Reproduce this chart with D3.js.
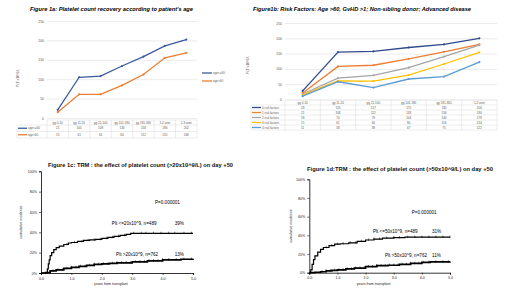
<!DOCTYPE html>
<html>
<head>
<meta charset="utf-8">
<script src="https://cdn.jsdelivr.net/npm/d3@7"></script>
<style>
  body { margin: 0; background: #fff; }
  svg { display: block; font-family: "Liberation Sans", Arial, sans-serif; }
</style>
</head>
<body>
<script>
// ---- data ----
const catsA = ['gg 0-10', 'gg 11-20', 'gg 21-100', 'gg 101-180', 'gg 181-365', '1-2 anni', '2-3 anni'];
const namesA = ['age<=60', 'age>60'];
const ageLe60 = [21, 105, 108, 134, 158, 186, 202];
const ageGt60 = [15, 61, 61, 84, 112, 155, 168];

const catsB = ['gg 0-10', 'gg 11-20', 'gg 21-100', 'gg 101-180', 'gg 181-365', '1-2 anni'];
const namesB = ['0 risk factors', '1 risk factors', '2 risk factors', '3 risk factors', '4 risk factors'];
const rf0 = [28, 155, 157, 170, 180, 200];
const rf1 = [21, 108, 112, 133, 156, 180];
const rf2 = [18, 70, 79, 104, 140, 178];
const rf3 = [15, 61, 60, 80, 116, 154];
const rf4 = [11, 58, 39, 67, 75, 122];

const yTicksLine = [0, 50, 100, 150, 200, 250];
const kmYTicks = [0, 0.2, 0.4, 0.6, 0.8, 1];
const kmXTicks = [0, 1, 2, 3, 4, 5];

// cumulative incidence step points [years, fraction]
const c_low20 = [[0,0],[0.19,0],[0.21,0.04],[0.24,0.09],[0.27,0.13],[0.3,0.17],[0.35,0.2],[0.42,0.23],[0.5,0.25],[0.6,0.265],[0.75,0.28],[0.9,0.295],[1.0,0.3],[1.2,0.31],[1.4,0.32],[1.6,0.325],[1.8,0.33],[2.0,0.34],[2.2,0.35],[2.4,0.36],[2.6,0.37],[2.8,0.38],[2.95,0.39],[5,0.39]];
const c_high20 = [[0,0],[0.15,0.005],[0.3,0.02],[0.5,0.03],[0.75,0.045],[1,0.055],[1.25,0.065],[1.5,0.075],[1.75,0.085],[2,0.09],[2.25,0.095],[2.5,0.1],[3,0.11],[3.5,0.12],[4,0.13],[4.6,0.135],[5,0.14]];
const cens_low20 = [0.85, 1.1, 1.35, 1.55, 1.75, 1.95, 2.15, 2.35, 2.55, 2.75, 3.05, 3.3, 3.45, 3.7, 3.95, 4.2, 4.4, 4.7, 4.95];
const cens_high20 = [0.4, 0.55, 0.7, 0.85, 1.0, 1.15, 1.3, 1.45, 1.6, 1.75, 1.9, 2.05, 2.2, 2.35, 2.5, 2.65, 2.8, 2.95, 3.1, 3.25, 3.4, 3.55, 3.7, 3.85, 4.0, 4.2, 4.45, 4.7, 4.95];

const c_low50 = [[0,0],[0.05,0.03],[0.1,0.09],[0.15,0.14],[0.2,0.18],[0.3,0.22],[0.4,0.25],[0.5,0.27],[0.7,0.29],[0.9,0.305],[1.1,0.31],[1.4,0.32],[1.7,0.335],[2,0.35],[2.3,0.36],[2.6,0.37],[3,0.375],[3.4,0.38],[5,0.38]];
const c_high50 = [[0,0],[0.2,0.005],[0.4,0.01],[0.6,0.02],[0.8,0.025],[1,0.03],[1.3,0.04],[1.6,0.05],[2,0.065],[2.4,0.075],[2.8,0.08],[3.2,0.09],[3.6,0.1],[4,0.11],[4.3,0.115],[5,0.12]];
const cens_low50 = [0.6, 0.8, 1.0, 1.2, 1.45, 1.65, 1.85, 2.1, 2.3, 2.5, 2.75, 3.0, 3.2, 3.5, 3.75, 4.0, 4.25, 4.5, 4.75, 5.0];
const cens_high50 = [0.45, 0.6, 0.75, 0.9, 1.05, 1.2, 1.35, 1.5, 1.65, 1.8, 1.95, 2.1, 2.25, 2.4, 2.55, 2.7, 2.85, 3.0, 3.15, 3.3, 3.45, 3.6, 3.75, 3.9, 4.05, 4.25, 4.5, 4.75, 4.95];

// ---- drawing ----
const svg = d3.select('body').append('svg').attr('width', 520).attr('height', 292);
svg.append('rect').attr('width', 520).attr('height', 292).attr('fill', '#fff');

const GRID = '#d9d9d9';
const TXT = '#595959';

function lineTableChart(cfg) {
  const g = svg.append('g');
  const x = d3.scaleBand().domain(cfg.cats).range([cfg.x0, cfg.x1]);
  const y = d3.scaleLinear().domain([0, 250]).range([cfg.yBot, cfg.yTop]);
  const cx = i => x(cfg.cats[i]) + x.bandwidth() / 2;

  // title
  g.append('text')
    .attr('x', cfg.title.x).attr('y', cfg.title.y)
    .attr('font-size', 5.4).attr('font-weight', 'bold').attr('font-style', 'italic')
    .attr('textLength', cfg.title.w).attr('lengthAdjust', 'spacingAndGlyphs')
    .text(cfg.title.text);

  // gridlines + y labels
  const yAx = g.append('g').attr('transform', `translate(${cfg.x0},0)`)
    .call(d3.axisLeft(y).tickValues(yTicksLine).tickSize(-(cfg.x1 - cfg.x0)).tickPadding(3));
  yAx.select('.domain').remove();
  yAx.selectAll('line').attr('stroke', GRID).attr('stroke-width', 0.5);
  yAx.selectAll('text').attr('font-size', 3.4).attr('fill', TXT).attr('font-family', 'Liberation Sans');

  // y title
  g.append('text')
    .attr('transform', `translate(${cfg.yTitle.x},${cfg.yTitle.y}) rotate(-90)`)
    .attr('text-anchor', 'middle').attr('font-size', 3.4).attr('fill', TXT)
    .text(cfg.yTitle.text);

  // lines
  const line = d3.line().x((d, i) => cx(i)).y(d => y(d));
  cfg.series.forEach((s, k) => {
    g.append('path').datum(s).attr('d', line)
      .attr('fill', 'none').attr('stroke', cfg.colors[k]).attr('stroke-width', 1.3);
    g.selectAll(null).data(s).join('circle')
      .attr('cx', (d, i) => cx(i)).attr('cy', d => y(d)).attr('r', 1.1)
      .attr('fill', cfg.colors[k]);
  });

  // data table
  const t = cfg.table;
  const rowsY = cfg.series.map((s, k) => t.top + t.headH + k * t.rowH);
  const bottom = t.top + t.headH + cfg.series.length * t.rowH;
  const tg = g.append('g').attr('stroke', GRID).attr('stroke-width', 0.5);
  tg.append('line').attr('x1', cfg.x0).attr('x2', cfg.x1).attr('y1', t.top).attr('y2', t.top);
  [t.top + t.headH, ...rowsY.map(r => r + t.rowH)].forEach(yy => {
    tg.append('line').attr('x1', t.labelX).attr('x2', cfg.x1).attr('y1', yy).attr('y2', yy);
  });
  tg.append('line').attr('x1', t.labelX).attr('x2', t.labelX).attr('y1', t.top + t.headH).attr('y2', bottom);
  cfg.cats.forEach(c => {
    tg.append('line').attr('x1', x(c)).attr('x2', x(c)).attr('y1', t.top).attr('y2', bottom);
  });
  tg.append('line').attr('x1', cfg.x1).attr('x2', cfg.x1).attr('y1', t.top).attr('y2', bottom);

  g.selectAll(null).data(cfg.cats).join('text')
    .attr('x', (d, i) => cx(i)).attr('y', t.top + t.headH / 2 + 1.1)
    .attr('text-anchor', 'middle').attr('font-size', 3).attr('fill', TXT).text(d => d);

  cfg.series.forEach((s, k) => {
    const ym = rowsY[k] + t.rowH / 2;
    g.append('line').attr('x1', t.labelX + 1).attr('x2', t.labelX + t.swatch)
      .attr('y1', ym).attr('y2', ym).attr('stroke', cfg.colors[k]).attr('stroke-width', 1.3);
    g.append('text').attr('x', t.labelX + t.swatch + 1).attr('y', ym + 1.1)
      .attr('font-size', 3).attr('fill', TXT).text(cfg.names[k]);
    g.selectAll(null).data(s).join('text')
      .attr('x', (d, i) => cx(i)).attr('y', ym + 1.1)
      .attr('text-anchor', 'middle').attr('font-size', 3).attr('fill', TXT).text(d => d);
  });

  // side legend
  if (cfg.legend) {
    cfg.names.forEach((n, k) => {
      const ly = cfg.legend.y + k * cfg.legend.dy;
      g.append('line').attr('x1', cfg.legend.x).attr('x2', cfg.legend.x + 10)
        .attr('y1', ly).attr('y2', ly).attr('stroke', cfg.colors[k]).attr('stroke-width', 1.3);
      g.append('text').attr('x', cfg.legend.x + 11).attr('y', ly + 1.1)
        .attr('font-size', 3).attr('fill', TXT).text(n);
    });
  }
}

function stepAt(pts, t) {
  let v = 0;
  pts.forEach(p => { if (p[0] <= t) v = p[1]; });
  return v;
}

function kmChart(cfg) {
  const g = svg.append('g');
  const x = d3.scaleLinear().domain([0, 5]).range([cfg.x0, cfg.x1]);
  const y = d3.scaleLinear().domain([0, 1]).range([cfg.yBot, cfg.yTop]);

  g.append('text')
    .attr('x', cfg.title.x).attr('y', cfg.title.y)
    .attr('font-size', 5.4).attr('font-weight', 'bold').attr('fill', '#111')
    .attr('textLength', cfg.title.w).attr('lengthAdjust', 'spacingAndGlyphs')
    .text(cfg.title.text);

  const yAx = g.append('g').attr('transform', `translate(${cfg.x0},0)`)
    .call(d3.axisLeft(y).tickValues(kmYTicks).tickFormat(d3.format('.0%')).tickSize(2).tickPadding(2));
  const xAx = g.append('g').attr('transform', `translate(0,${cfg.yBot})`)
    .call(d3.axisBottom(x).tickValues(kmXTicks).tickSize(2).tickPadding(2));
  [yAx, xAx].forEach(a => {
    a.select('.domain').attr('stroke', '#000').attr('stroke-width', 0.8);
    a.selectAll('line').attr('stroke', '#000').attr('stroke-width', 0.6);
    a.selectAll('text').attr('font-size', 3.6).attr('fill', '#222').attr('font-family', 'Liberation Sans');
  });

  g.append('text')
    .attr('transform', `translate(${cfg.yTitleX},${(cfg.yTop + cfg.yBot) / 2}) rotate(-90)`)
    .attr('text-anchor', 'middle').attr('font-size', 3.6).attr('fill', '#222')
    .text('cumulative incidence');
  g.append('text')
    .attr('x', (cfg.x0 + cfg.x1) / 2 - 6).attr('y', cfg.yBot + 12)
    .attr('text-anchor', 'middle').attr('font-size', 3.6).attr('fill', '#222')
    .text('years from transplant');

  const line = d3.line().x(d => x(d[0])).y(d => y(d[1])).curve(d3.curveStepAfter);
  cfg.curves.forEach((c, k) => {
    g.append('path').datum(c).attr('d', line)
      .attr('fill', 'none').attr('stroke', '#000').attr('stroke-width', cfg.widths[k]);
    g.selectAll(null).data(cfg.cens[k]).join('line')
      .attr('x1', d => x(d)).attr('x2', d => x(d))
      .attr('y1', d => y(stepAt(c, d)) - 1.6).attr('y2', d => y(stepAt(c, d)) + 0.8)
      .attr('stroke', '#000').attr('stroke-width', 0.6);
  });

  cfg.notes.forEach(n => {
    g.append('text').attr('x', x(n.t)).attr('y', y(n.v))
      .attr('dominant-baseline', 'middle')
      .attr('font-size', 4.6).attr('fill', '#000').text(n.text);
  });
}

lineTableChart({
  cats: catsA, names: namesA, series: [ageLe60, ageGt60],
  colors: ['#3a5aa0', '#ed7d31'],
  x0: 47, x1: 197, yTop: 21, yBot: 118,
  title: { x: 30, y: 11, w: 163, text: "Figure 1a: Platelet count recovery according to patient's age" },
  yTitle: { x: 19, y: 78, text: 'PLT x10^9/L' },
  table: { top: 120, headH: 5, rowH: 6.5, labelX: 17, swatch: 10 },
  legend: { x: 202, y: 73, dy: 8 }
});

lineTableChart({
  cats: catsB, names: namesB, series: [rf0, rf1, rf2, rf3, rf4],
  colors: ['#2f4b8c', '#ed7d31', '#a5a5a5', '#ffc000', '#5b9bd5'],
  x0: 285, x1: 497, yTop: 23, yBot: 99.5,
  title: { x: 253, y: 11, w: 218, text: 'Figure1b: Risk Factors: Age >60, GvHD >1; Non-sibling donor; Advanced disease' },
  yTitle: { x: 249, y: 65, text: 'PLT x10^9/L' },
  table: { top: 100, headH: 5, rowH: 5, labelX: 251, swatch: 10 }
});

kmChart({
  x0: 41, x1: 193, yTop: 171.3, yBot: 273, yTitleX: 22,
  title: { x: 48, y: 167, w: 185, text: 'Figure 1c: TRM : the effect of platelet count (>20x10^9/L) on day +50' },
  curves: [c_low20, c_high20], cens: [cens_low20, cens_high20], widths: [1.2, 1.7],
  notes: [
    { t: 3.75, v: 0.69, text: 'P=0.000001' },
    { t: 2.33, v: 0.485, text: 'Plt <=20x10^9, n=489' },
    { t: 4.4, v: 0.485, text: '39%' },
    { t: 2.47, v: 0.184, text: 'Plt >20x10^9, n=762' },
    { t: 4.4, v: 0.184, text: '13%' }
  ]
});

kmChart({
  x0: 309.3, x1: 450, yTop: 179.3, yBot: 272.7, yTitleX: 292,
  title: { x: 307, y: 171, w: 186, text: 'Figure 1d:TRM : the effect of platelet count (>50x10^9/L) on day +50' },
  curves: [c_low50, c_high50], cens: [cens_low50, cens_high50], widths: [1.2, 1.7],
  notes: [
    { t: 3.64, v: 0.642, text: 'P=0.000001' },
    { t: 2.26, v: 0.439, text: 'Plt <=50x10^9, n=489' },
    { t: 4.36, v: 0.439, text: '31%' },
    { t: 2.69, v: 0.179, text: 'Plt >50x10^9, n=762' },
    { t: 4.36, v: 0.179, text: '11%' }
  ]
});
</script>
</body>
</html>
